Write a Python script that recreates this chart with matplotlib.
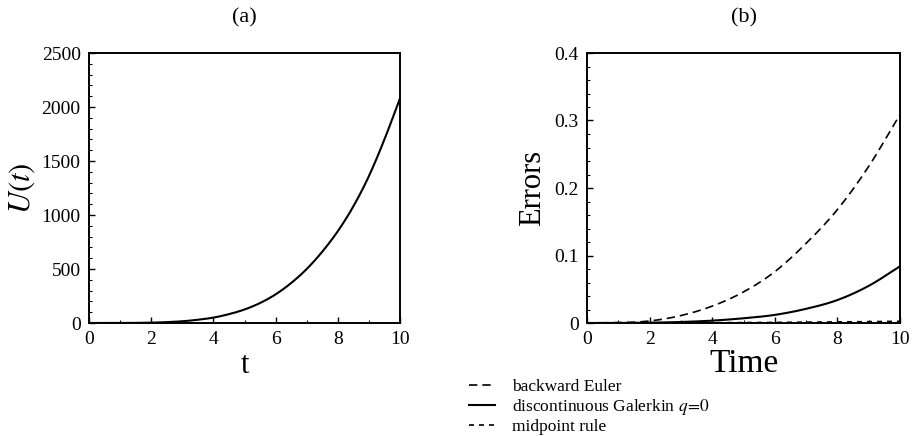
import numpy as np
import matplotlib.pyplot as plt
from matplotlib.ticker import MultipleLocator

# values
t_a = [0, 0.5, 1, 1.5, 2, 2.5, 3, 3.5, 4, 4.5, 5, 5.5, 6, 6.5, 7, 7.5, 8, 8.5, 9, 9.5, 10]
u_vals = [0, 0, 0.2, 1, 3, 8, 16, 30, 50, 82, 125, 185, 265, 370, 500, 660, 850, 1080, 1360, 1700, 2080]

t_b = [0, 1, 2, 3, 4, 5, 6, 7, 8, 9, 10]
err_be = [0, 0.0005, 0.003, 0.011, 0.025, 0.046, 0.076, 0.118, 0.168, 0.232, 0.309]
err_dg = [0, 0.0, 0.0005, 0.0015, 0.0035, 0.007, 0.012, 0.021, 0.034, 0.055, 0.084]
err_mp = [0, 0.0, 0.0001, 0.0002, 0.0004, 0.0006, 0.0009, 0.0012, 0.0016, 0.002, 0.0025]

plt.rcParams['font.family'] = ['Liberation Serif', 'DejaVu Serif']
plt.rcParams['mathtext.fontset'] = 'stix'


def smooth(x, y, n=300):
    # piecewise cubic Hermite through the read points
    x = np.asarray(x, float)
    y = np.asarray(y, float)
    d = np.gradient(y, x)
    xs = np.linspace(x[0], x[-1], n)
    k = np.clip(np.searchsorted(x, xs, side='right') - 1, 0, len(x) - 2)
    h = x[k + 1] - x[k]
    s = (xs - x[k]) / h
    out = ((2 * s**3 - 3 * s**2 + 1) * y[k] + (s**3 - 2 * s**2 + s) * h * d[k]
           + (-2 * s**3 + 3 * s**2) * y[k + 1] + (s**3 - s**2) * h * d[k + 1])
    return xs, out


def style_axes(ax):
    ax.tick_params(which='both', direction='in', labelsize=14, pad=6)
    ax.tick_params(which='major', length=4, width=1)
    ax.tick_params(which='minor', length=2, width=0.8)
    for s in ax.spines.values():
        s.set_linewidth(1.4)


fig = plt.figure(figsize=(9.14, 4.36), dpi=100)
ax1 = fig.add_axes([89 / 914, 1 - 323 / 436, 311 / 914, 270 / 436])
ax2 = fig.add_axes([587 / 914, 1 - 323 / 436, 313 / 914, 270 / 436])

xs, ys = smooth(t_a, u_vals)
ax1.plot(xs, ys, color='black', lw=1.5)
ax1.set_xlim(0, 10)
ax1.set_ylim(0, 2500)
ax1.xaxis.set_major_locator(MultipleLocator(2))
ax1.xaxis.set_minor_locator(MultipleLocator(1))
ax1.yaxis.set_major_locator(MultipleLocator(500))
ax1.yaxis.set_minor_locator(MultipleLocator(100))
style_axes(ax1)
ax1.set_xlabel('t', fontsize=22, labelpad=2)
ax1.set_ylabel('$U(t)$', fontsize=22, labelpad=3)
ax1.set_title('(a)', fontsize=16, pad=22)

xs, yb = smooth(t_b, err_be)
_, yd = smooth(t_b, err_dg)
_, ym = smooth(t_b, err_mp)
ax2.plot(xs, yb, color='black', lw=1.2, ls=(0, (5, 3)), label='backward Euler')
ax2.plot(xs, yd, color='black', lw=1.5, ls='-', label=r'discontinuous Galerkin $q\!=\!\mathit{0}$')
ax2.plot(xs, ym, color='black', lw=1.2, ls=(0, (3, 3)), label='midpoint rule')
ax2.set_xlim(0, 10)
ax2.set_ylim(0, 0.4)
ax2.xaxis.set_major_locator(MultipleLocator(2))
ax2.xaxis.set_minor_locator(MultipleLocator(1))
ax2.yaxis.set_major_locator(MultipleLocator(0.1))
ax2.yaxis.set_minor_locator(MultipleLocator(0.02))
ax2.yaxis.set_major_formatter(plt.FuncFormatter(lambda v, p: '0' if v == 0 else f'{v:.1f}'))
style_axes(ax2)
ax2.set_xlabel('Time', fontsize=24, labelpad=0)
ax2.set_ylabel('Errors', fontsize=22, labelpad=5)
ax2.set_title('(b)', fontsize=16, pad=22)

fig.legend(loc='upper left', bbox_to_anchor=(462 / 914, 1 - 372 / 436), frameon=False,
           fontsize=12.5, handlelength=1.5, labelspacing=0.12, borderaxespad=0, handletextpad=1.0)

fig.savefig('out.png', dpi=100)
